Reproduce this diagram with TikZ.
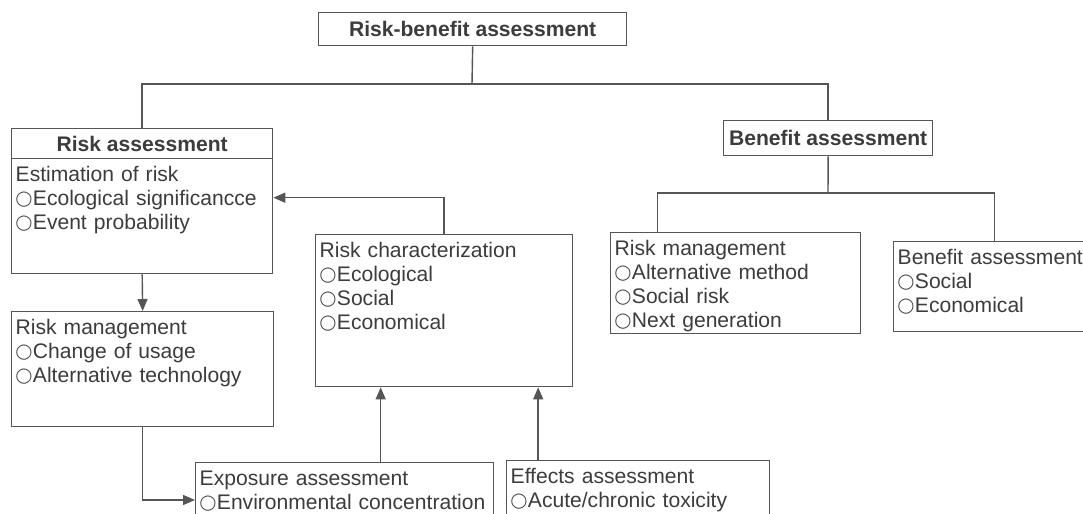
\documentclass[tikz,border=0pt]{standalone}
\usepackage{fontspec}
\setmainfont{Liberation Sans}
\newfontfamily\ringfont{DejaVu Sans}
\usetikzlibrary{arrows.meta,positioning}
\definecolor{inkc}{HTML}{3C3C3C}
\definecolor{linec}{HTML}{555555}
\newcommand\boxfont{\fontsize{12}{13.6}\selectfont}
\newcommand\ring{\raisebox{1.1pt}{\ringfont\fontsize{8.5}{8.5}\selectfont ◯}\kern0.3pt}
\begin{document}
\begin{tikzpicture}[x=0.02cm, y=-0.02cm,
  font=\boxfont,
  box/.style={draw=linec, line width=0.8pt, text=inkc, align=left, anchor=north west,
    inner xsep=0.08cm, inner ysep=0.08cm, text height=0.38cm},
  head/.style={draw=linec, line width=0.8pt, text=inkc, font=\boxfont\bfseries,
    anchor=north west, inner sep=0pt},
  link/.style={draw=linec, line width=0.8pt},
  arr/.style={link, -{Triangle[length=0.24cm,width=0.2cm]}}
]
\useasboundingbox (0,0) rectangle (1083,514);
\clip (0,0) rectangle (1083,514);

% top level
\node[head, minimum width=6.16cm, minimum height=0.66cm] (top) at (318,12) {Risk-benefit assessment};
\coordinate (j1) at (472,84);

% risk side
\node[head, minimum width=5.22cm, minimum height=0.6cm] (rah) at (11,128) {Risk assessment};
\node[box, text width=5.06cm, text depth=1.76cm] (rab) at (11,158)
  {Estimation of risk\\\ring Ecological significancce\\\ring Event probability};
\node[box, text width=5.08cm, text depth=1.76cm] (rml) at (11,311)
  {Risk management\\\ring Change of usage\\\ring Alternative technology};
\node[box, text width=4.98cm, text depth=2.50cm] (rc) at (315,234)
  {Risk characterization\\\ring Ecological\\\ring Social\\\ring Economical};
\node[box, text width=5.80cm, text depth=1.50cm] (exp) at (195,462)
  {Exposure assessment\\\ring Environmental concentration};
\node[box, text width=5.10cm, text depth=1.50cm] (eff) at (506,460)
  {Effects assessment\\\ring Acute/chronic toxicity};

% benefit side
\node[head, minimum width=4.18cm, minimum height=0.7cm] (bah) at (723,120) {Benefit assessment};
\coordinate (j2) at (828,193);
\node[box, text width=4.84cm, text depth=1.48cm] (rmr) at (610,232)
  {Risk management\\\ring Alternative method\\\ring Social risk\\\ring Next generation};
\node[box, text width=3.88cm, text depth=1.26cm] (bar) at (893,241)
  {Benefit assessment\\\ring Social\\\ring Economical};

% connectors
\draw[link] (top.south) -- (j1);
\draw[link] (rah.north) |- (j1) -| (bah.north);
\draw[arr] (rab.south) -- (rml.north);
\draw[arr] (rml.south) |- (exp.west |- 0,500);
\draw[arr] ([xshift=0.72cm]exp.north) -- ([xshift=0.72cm]exp.north |- rc.south);
\draw[arr] ([xshift=-2cm]eff.north) -- ([xshift=-2cm]eff.north |- rc.south);
\draw[arr] (rc.north) |- ([yshift=0.37cm]rab.east);
\draw[link] (bah.south) -- (j2);
\draw[link] ([xshift=-1.56cm]rmr.north) |- (j2) -| (bar.north);
\end{tikzpicture}
\end{document}
